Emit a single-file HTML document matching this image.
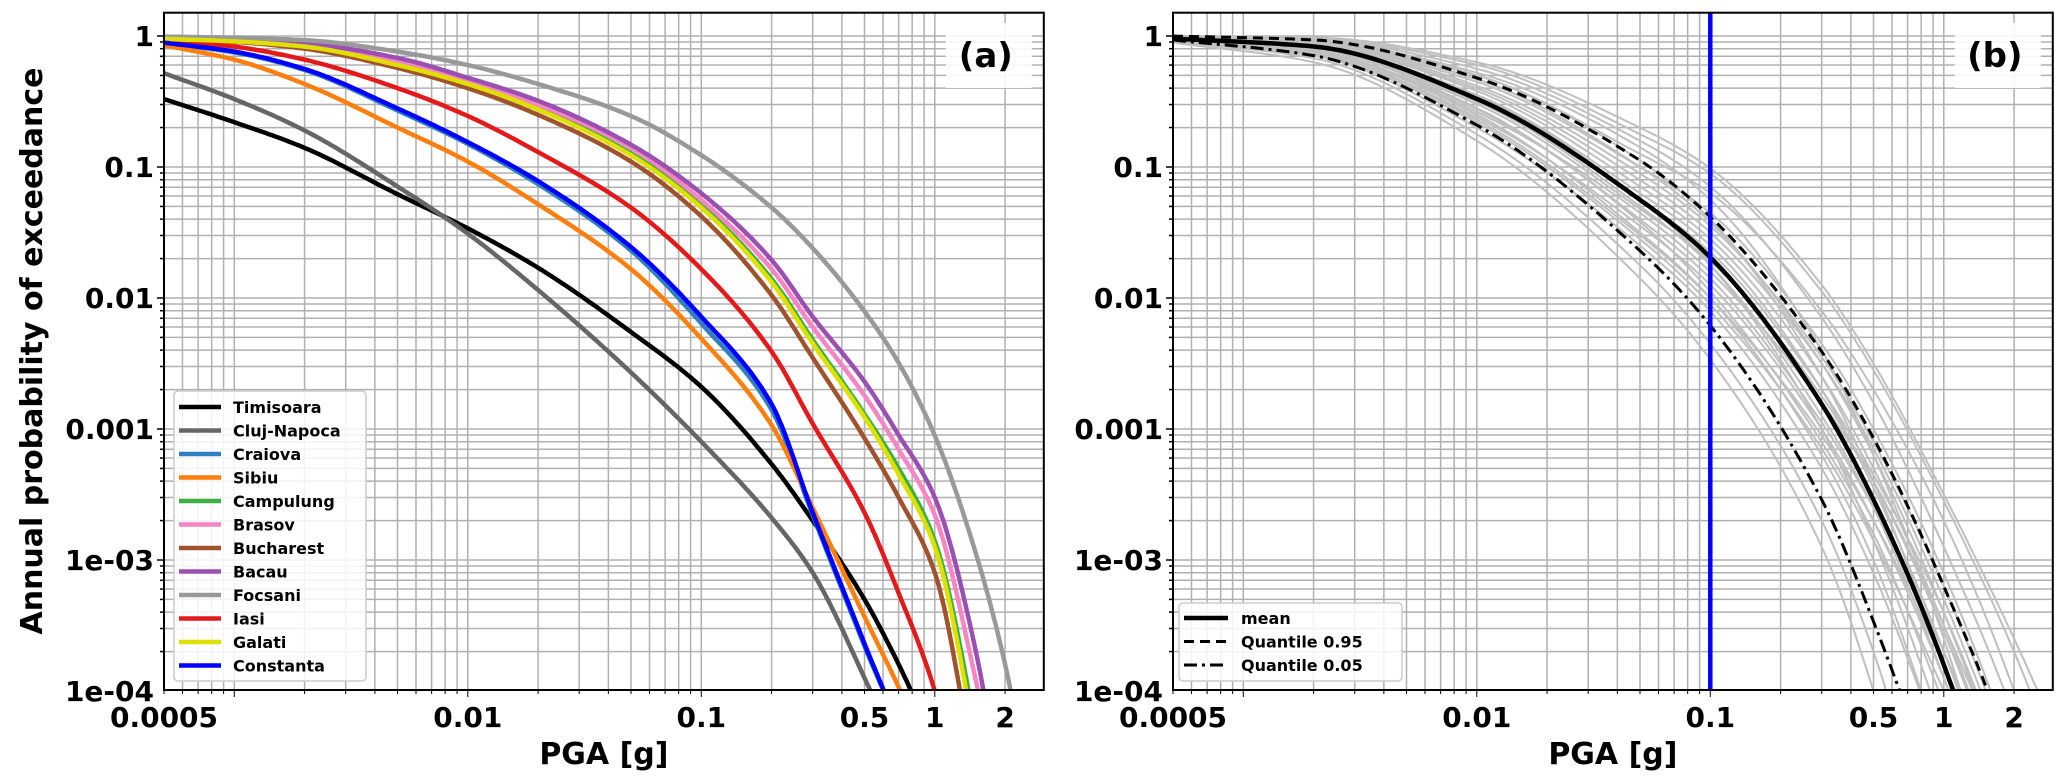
<!DOCTYPE html>
<html><head><meta charset="utf-8">
<style>
html,body{margin:0;padding:0;background:#fff;overflow:hidden;width:2067px;height:783px;}
svg{display:block;font-family:"DejaVu Sans","Liberation Sans",sans-serif;font-weight:bold;}
</style></head>
<body>
<svg id="chart" width="2067" height="783" viewBox="0 0 2067 783" xmlns="http://www.w3.org/2000/svg"></svg>
<script>
// ---------- data ----------
const xTickValues = [0.0005, 0.01, 0.1, 0.5, 1, 2];
const xTickLabels = ["0.0005", "0.01", "0.1", "0.5", "1", "2"];
const yTickValues = [1, 0.1, 0.01, 0.001, 0.0001, 0.00001];
const yTickLabels = ["1", "0.1", "0.01", "0.001", "1e-03", "1e-04"];

const pgaGridA = [0.0005,0.001,0.002,0.005,0.01,0.02,0.05,0.1,0.2,0.3,0.5,0.7,1,1.5,2,2.5];
const cityNames = ["Timisoara","Cluj-Napoca","Craiova","Sibiu","Campulung","Brasov","Bucharest","Bacau","Focsani","Iasi","Galati","Constanta"];
const cityColors = ["#000000","#666666","#2f7fbf","#ff7f0e","#3cb043","#f784c4","#a0522d","#9b4fb0","#999999","#e31a1c","#e0e000","#0000ff"];
const timisoara = [0.33,0.22,0.14,0.062,0.034,0.017,0.0055,0.0021,0.00054,0.0002,0.00005,0.000016,0.000004,1e-6,1e-7,1e-8];
const clujNapoca = [0.52,0.33,0.19,0.071,0.031,0.0115,0.0027,0.0008,0.00021,0.00008,0.0000126,0.0000032,6e-7,1e-8,1e-9,1e-10];
const craiova = [0.88,0.75,0.55,0.27,0.15,0.074,0.023,0.0064,0.0014,0.00022,0.000022,5e-6,5e-7,1e-8,1e-9,1e-10];
const sibiu = [0.85,0.66,0.43,0.2,0.11,0.052,0.0166,0.0049,0.00107,0.00025,0.000037,0.0000107,2.5e-6,1e-7,1e-8,1e-9];
const campulung = [0.95,0.91,0.83,0.61,0.44,0.28,0.127,0.051,0.014,0.0048,0.0013,0.0005,0.00014,0.000005,2e-7,1e-8];
const brasov = [0.95,0.92,0.84,0.63,0.46,0.3,0.14,0.056,0.0166,0.006,0.0018,0.0007,0.00022,0.000012,1e-6,5e-8];
const bucharest = [0.94,0.9,0.8,0.57,0.4,0.25,0.11,0.042,0.0105,0.0035,0.00085,0.0003,0.00008,0.000002,1e-7,1e-8];
const bacau = [0.98,0.95,0.88,0.68,0.48,0.32,0.148,0.063,0.0195,0.0072,0.0023,0.0009,0.0003,0.00002,1e-6,1e-7];
const focsani = [0.99,0.97,0.93,0.76,0.6,0.43,0.245,0.123,0.049,0.024,0.0079,0.0032,0.00089,0.000112,0.000016,2e-6];
const iasi = [0.93,0.83,0.66,0.4,0.245,0.13,0.049,0.0166,0.0039,0.0011,0.00023,0.000056,0.00001,4e-7,1e-8,1e-9];
const galati = [0.95,0.91,0.83,0.6,0.43,0.275,0.123,0.049,0.0132,0.0045,0.00123,0.00045,0.000126,0.000004,2e-7,1e-8];
const constanta = [0.89,0.76,0.56,0.28,0.155,0.078,0.0245,0.0072,0.00155,0.00023,0.000023,5e-6,5e-7,1e-8,1e-9,1e-10];
const citySeries = [timisoara,clujNapoca,craiova,sibiu,campulung,brasov,bucharest,bacau,focsani,iasi,galati,constanta];

// panel b (log10 of annual probability)
const pgaGridB = [0.0005,0.002,0.01,0.05,0.1,0.3,0.5,1,2,3];
const meanLog = [-0.02,-0.08,-0.48,-1.25,-1.69,-2.81,-3.54,-4.8,-6.5,-8];
const q95Log = [0,-0.03,-0.32,-0.95,-1.38,-2.41,-3.07,-4.2,-5.6,-7];
const q05Log = [-0.03,-0.15,-0.68,-1.64,-2.21,-3.54,-4.47,-6,-8,-9];
const g1=[-0.01,-0.05,-0.3,-0.9,-1.2,-2.1,-2.7,-3.7,-5,-6];
const g2=[-0.02,-0.06,-0.35,-1.0,-1.35,-2.35,-3.0,-4.1,-5.5,-6.5];
const g3=[-0.03,-0.12,-0.6,-1.5,-2.0,-3.2,-4.0,-5.5,-7,-8];
const g4=[-0.02,-0.09,-0.5,-1.3,-1.75,-2.9,-3.6,-4.9,-6.5,-8];
const g5=[0,-0.02,-0.22,-0.75,-1.05,-1.95,-2.55,-3.55,-4.7,-5.5];
const g6=[-0.04,-0.17,-0.75,-1.75,-2.35,-3.7,-4.7,-6.5,-8,-9];
const g7=[-0.02,-0.07,-0.42,-1.15,-1.55,-2.6,-3.3,-4.5,-6,-7];
const g8=[-0.01,-0.04,-0.28,-0.85,-1.25,-2.4,-3.2,-4.6,-6.5,-8];
const g9=[-0.03,-0.1,-0.55,-1.4,-1.85,-2.95,-3.6,-4.7,-6,-7];
const g10=[-0.02,-0.08,-0.45,-1.2,-1.6,-2.7,-3.45,-4.7,-6.3,-7.5];
const g11=[-0.03,-0.13,-0.62,-1.45,-1.9,-3.0,-3.7,-4.9,-6.4,-7.5];
const g12=[-0.01,-0.04,-0.3,-0.95,-1.4,-2.6,-3.4,-4.8,-6.5,-8];
const g13=[-0.02,-0.06,-0.38,-1.05,-1.45,-2.45,-3.1,-4.2,-5.6,-6.6];
const g14=[-0.04,-0.15,-0.7,-1.6,-2.1,-3.3,-4.1,-5.5,-7,-8];
const g15=[-0.02,-0.09,-0.5,-1.25,-1.65,-2.7,-3.35,-4.4,-5.8,-6.8];
const g16=[-0.01,-0.03,-0.25,-0.8,-1.15,-2.15,-2.8,-3.9,-5.2,-6.2];
const g17=[-0.03,-0.11,-0.58,-1.35,-1.8,-2.8,-3.4,-4.5,-5.8,-6.8];
const g18=[-0.02,-0.08,-0.46,-1.25,-1.75,-3.0,-3.85,-5.3,-7,-8];
const g19=[-0.03,-0.14,-0.66,-1.55,-2.05,-3.15,-3.85,-5.0,-6.3,-7.3];
const g20=[-0.02,-0.07,-0.4,-1.1,-1.5,-2.5,-3.15,-4.3,-5.7,-6.7];
const g21=[-0.05,-0.2,-0.8,-1.85,-2.47,-3.9,-5,-7,-9,-10];
const g22=[0,-0.01,-0.2,-0.7,-1.01,-1.9,-2.5,-3.5,-4.6,-5.3];
const g23=[-0.02,-0.1,-0.52,-1.32,-1.72,-2.75,-3.4,-4.55,-6,-7];
const g24=[-0.03,-0.12,-0.56,-1.42,-1.95,-3.1,-3.8,-5.1,-6.6,-7.6];
const g25=[-0.01,-0.05,-0.33,-1.0,-1.42,-2.5,-3.2,-4.4,-5.9,-7];
const g26=[-0.03,-0.13,-0.64,-1.52,-2.0,-3.05,-3.7,-4.8,-6.1,-7];
const samplesLog = [g1,g2,g3,g4,g5,g6,g7,g8,g9,g10,g11,g12,g13,g14,g15,g16,g17,g18,g19,g20,g21,g22,g23,g24,g25,g26];
const thresholdPGA = 0.1;

// ---------- layout ----------
const NS = "http://www.w3.org/2000/svg";
const svg = document.getElementById("chart");
const TOP = 12.7, BOT = 690, DEC_X = 233.5, DEC_Y = 131, Y1 = 36;
const XMIN = 0.0005, XMAX = 2.93;
function el(tag, attrs, parent) {
  const e = document.createElementNS(NS, tag);
  for (const k in attrs) e.setAttribute(k, attrs[k]);
  (parent || svg).appendChild(e);
  return e;
}
function makeAxes(left) {
  const right = left + DEC_X * Math.log10(XMAX / XMIN);
  const X = v => left + (Math.log10(v) - Math.log10(XMIN)) * DEC_X;
  const Y = p => Y1 - Math.log10(p) * DEC_Y;
  const YL = lp => Y1 - lp * DEC_Y;
  return {left, right, X, Y, YL};
}
// monotone cubic Hermite interpolation in (log x, log y) space
function curvePath(ax, xs, logYs) {
  const lx = xs.map(v => Math.log10(v));
  const n = lx.length;
  const d = [];
  for (let i = 0; i < n - 1; i++) d.push((logYs[i + 1] - logYs[i]) / (lx[i + 1] - lx[i]));
  const m = [];
  for (let i = 0; i < n; i++) {
    if (i === 0) m.push(d[0]);
    else if (i === n - 1) m.push(d[n - 2]);
    else {
      if (d[i - 1] * d[i] <= 0) m.push(0);
      else {
        const h0 = lx[i] - lx[i - 1], h1 = lx[i + 1] - lx[i];
        const w1 = 2 * h1 + h0, w2 = h1 + 2 * h0;
        m.push((w1 + w2) / (w1 / d[i - 1] + w2 / d[i]));
      }
    }
  }
  let path = "";
  let done = false;
  for (let i = 0; i < n - 1 && !done; i++) {
    const h = lx[i + 1] - lx[i];
    const steps = 24;
    for (let s = (i === 0 ? 0 : 1); s <= steps; s++) {
      const t = s / steps;
      const h00 = 2*t*t*t - 3*t*t + 1, h10 = t*t*t - 2*t*t + t, h01 = -2*t*t*t + 3*t*t, h11 = t*t*t - t*t;
      const yv = h00 * logYs[i] + h10 * h * m[i] + h01 * logYs[i + 1] + h11 * h * m[i + 1];
      const xv = lx[i] + t * h;
      let py = ax.YL(yv);
      const px = ax.left + (xv - Math.log10(XMIN)) * DEC_X;
      if (py > BOT + 30) { py = BOT + 30; done = true; }
      path += (path ? "L" : "M") + px.toFixed(1) + "," + py.toFixed(1);
      if (done) break;
    }
  }
  return path;
}
function drawFrame(ax, id, letter) {
  const g = el("g", {});
  
  
  const cp = el("clipPath", {id: "clip" + id}, g);
  el("rect", {x: ax.left, y: TOP, width: ax.right - ax.left, height: BOT - TOP}, cp);
  const grid = el("g", {stroke: "#b0b0b0", "stroke-width": 1.5}, g);
  
  
  for (let e = -4; e <= 0; e++) for (let m = 1; m <= 9; m++) {
    const v = m * Math.pow(10, e);
    if (v < XMIN || v > XMAX) continue;
    const x = ax.X(v);
    el("line", {x1: x, x2: x, y1: TOP, y2: BOT}, grid);
    el("line", {x1: x, x2: x, y1: BOT, y2: BOT + (m === 1 ? 7 : 4), stroke: "#000"}, g);
  }
  for (let e = -5; e <= 0; e++) for (let m = 1; m <= 9; m++) {
    const v = m * Math.pow(10, e);
    const y = ax.Y(v);
    if (y < TOP || y > BOT) continue;
    el("line", {x1: ax.left, x2: ax.right, y1: y, y2: y}, grid);
    el("line", {x1: ax.left - (m === 1 ? 7 : 4), x2: ax.left, y1: y, y2: y, stroke: "#000", "stroke-width": 1.5}, g);
  }
  xTickValues.forEach((v, i) => {
    const t = el("text", {x: ax.X(v), y: 727, "text-anchor": "middle", "font-size": 28}, g);
    t.textContent = xTickLabels[i];
    
    
  });
  yTickValues.forEach((v, i) => {
    const t = el("text", {x: ax.left - 10, y: ax.Y(v) + 10, "text-anchor": "end", "font-size": 28}, g);
    t.textContent = yTickLabels[i];
    
    
  });
  const xl = el("text", {x: (ax.left + ax.right) / 2, y: 764, "text-anchor": "middle", "font-size": 30}, g);
  xl.textContent = "PGA [g]";
  
  
  return g;
}
function drawBorder(ax, g, letter) {
  const b = el("rect", {x: ax.left, y: TOP, width: ax.right - ax.left, height: BOT - TOP, fill: "none", stroke: "#000", "stroke-width": 2}, g);
  
  
  const bx = el("g", {}, g);
  
  
  el("rect", {x: ax.right - 98, y: 23, width: 86, height: 65, fill: "#fff", opacity: 0.9}, bx);
  const t = el("text", {x: ax.right - 58, y: 67, "text-anchor": "middle", "font-size": 34}, bx);
  t.textContent = "(" + letter + ")";
}

// ---------- panel a ----------
const axA = makeAxes(164);
const gA = drawFrame(axA, "A", "a");
const linesA = el("g", {"clip-path": "url(#clipA)", fill: "none"}, gA);
citySeries.forEach((s, i) => {
  const p = el("path", {d: curvePath(axA, pgaGridA, s.map(v => Math.log10(v))), stroke: cityColors[i], "stroke-width": 4.5, "stroke-linejoin": "round"}, linesA);
  
  
});
drawBorder(axA, gA, "a");
const yl = el("text", {x: 0, y: 0, "text-anchor": "middle", "font-size": 30, transform: "translate(42,351) rotate(-90)"});
yl.textContent = "Annual probability of exceedance";


// legend a
const legA = el("g", {}, gA);


el("rect", {x: 174, y: 391, width: 192, height: 290, rx: 4, fill: "#fff", "fill-opacity": 0.85, stroke: "#cccccc", "stroke-width": 1.5}, legA);
cityNames.forEach((n, i) => {
  const y = 407 + i * 23.5;
  const e = el("g", {}, legA);
  
  
  el("line", {x1: 179, x2: 221, y1: y, y2: y, stroke: cityColors[i], "stroke-width": 4.5}, e);
  const t = el("text", {x: 233, y: y + 6, "font-size": 16}, e);
  t.textContent = n;
});

// ---------- panel b ----------
const axB = makeAxes(1173);
const gB = drawFrame(axB, "B", "b");
const linesB = el("g", {"clip-path": "url(#clipB)", fill: "none"}, gB);
samplesLog.forEach(s => {
  const p = el("path", {d: curvePath(axB, pgaGridB, s), stroke: "#bfbfbf", "stroke-width": 2}, linesB);
  
  
});
const statDefs = [[meanLog, "mean-curve", "", 4.5], [q95Log, "quantile-95-curve", "10,6", 3], [q05Log, "quantile-05-curve", "13,5,3,5", 3]];
statDefs.forEach(sd => {
  const attrs = {d: curvePath(axB, pgaGridB, sd[0]), stroke: "#000", "stroke-width": sd[3]};
  if (sd[2]) attrs["stroke-dasharray"] = sd[2];
  const p = el("path", attrs, linesB);
  
  
});
const vline = el("line", {x1: axB.X(thresholdPGA), x2: axB.X(thresholdPGA), y1: TOP, y2: BOT, stroke: "#0000ff", "stroke-width": 4.5}, gB);


drawBorder(axB, gB, "b");
const legB = el("g", {}, gB);


el("rect", {x: 1179, y: 603, width: 223, height: 78, rx: 4, fill: "#fff", "fill-opacity": 0.85, stroke: "#cccccc", "stroke-width": 1.5}, legB);
const legLabels = ["mean", "Quantile 0.95", "Quantile 0.05"];
statDefs.forEach((sd, i) => {
  const y = 618 + i * 23.5;
  const e = el("g", {}, legB);
  
  
  const a = {x1: 1184, x2: 1228, y1: y, y2: y, stroke: "#000", "stroke-width": sd[3]};
  if (sd[2]) a["stroke-dasharray"] = sd[2];
  el("line", a, e);
  const t = el("text", {x: 1241, y: y + 6, "font-size": 16}, e);
  t.textContent = legLabels[i];
});
</script>
</body></html>
